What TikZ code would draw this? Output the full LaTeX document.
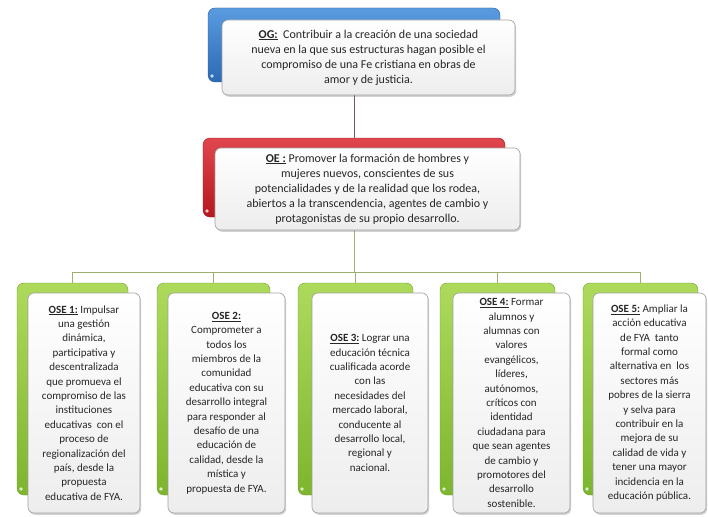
\documentclass[tikz,border=0pt]{standalone}
\usepackage{fontspec}
\setmainfont{Carlito}
\usetikzlibrary{shadows}
\definecolor{txt}{HTML}{262626}
\definecolor{bluetop}{HTML}{5A9BE0}
\definecolor{bluebot}{HTML}{2C6AB5}
\definecolor{blueedge}{HTML}{25599A}
\definecolor{redtop}{HTML}{E0474D}
\definecolor{redbot}{HTML}{B5181F}
\definecolor{rededge}{HTML}{9A1419}
\definecolor{greentop}{HTML}{AEDA5C}
\definecolor{greenbot}{HTML}{7DB52E}
\definecolor{greenedge}{HTML}{6E9E2A}
\definecolor{topline}{HTML}{6E5A5A}
\definecolor{greenline}{HTML}{9EB070}
\definecolor{frontedge}{HTML}{A0A0A0}
\tikzset{
  backbox/.style={rounded corners=7pt, inner sep=0pt,
    path picture={\fill[white,opacity=0.75] ([shift={(4pt,6pt)}]path picture bounding box.south west) circle (1.8pt);}},
  bluebk/.style={backbox, draw=blueedge, top color=bluetop, bottom color=bluebot},
  redbk/.style={backbox, draw=rededge, top color=redtop, bottom color=redbot},
  greenbk/.style={backbox, draw=greenedge, top color=greentop, bottom color=greenbot},
  frontbox/.style={rounded corners=6pt, draw=frontedge, line width=0.6pt, top color=white, bottom color=gray!14,
    drop shadow={opacity=0.35, shadow xshift=1.2pt, shadow yshift=-1.8pt},
    inner sep=0pt, align=center, text=txt},
  bigtxt/.style={font=\fontsize{12}{15}\selectfont},
  smalltxt/.style={font=\fontsize{11}{14.4}\selectfont},
  conn/.style={line width=1pt},
}
\begin{document}
\begin{tikzpicture}[x=1pt,y=-1pt]
\useasboundingbox[fill=white] (0,0) rectangle (708,516);

\coordinate (bar) at (354,272);

% back boxes
\node[bluebk, minimum width=292pt, minimum height=74pt] (ogb) at (354,45) {};
\node[redbk, minimum width=302pt, minimum height=79pt] (oeb) at (354,177.5) {};
\node[greenbk, minimum width=111pt, minimum height=212pt] (ose1b) at (72.5,389) {};
\node[greenbk, minimum width=113pt, minimum height=212pt] (ose2b) at (213.5,389) {};
\node[greenbk, minimum width=115pt, minimum height=212pt] (ose3b) at (355.5,389) {};
\node[greenbk, minimum width=115pt, minimum height=212pt] (ose4b) at (497.5,389) {};
\node[greenbk, minimum width=115pt, minimum height=212pt] (ose5b) at (640.5,389) {};

% connectors
\draw[conn, topline] (ogb.south) -- (oeb.north);
\draw[conn, greenline] (oeb.south) -- (bar);
\draw[conn, greenline] (ose1b.north) |- (bar);
\draw[conn, greenline] (ose2b.north) |- (bar);
\draw[conn, greenline] (ose3b.north) |- (bar);
\draw[conn, greenline] (ose4b.north) |- (bar);
\draw[conn, greenline] (ose5b.north) |- (bar);

% front boxes
\node[frontbox, bigtxt, minimum width=293pt, minimum height=75pt] (og) at (368.5,57.5)
 {\textbf{\underline{OG:}}~ Contribuir a la creación de una sociedad\\nueva en la que sus estructuras hagan posible el\\compromiso de una Fe cristiana en obras de\\amor y de justicia.};
\node[frontbox, bigtxt, minimum width=305pt, minimum height=82pt] (oe) at (367.5,189)
 {\textbf{\underline{OE :}} Promover la formación de hombres y\\mujeres nuevos, conscientes de sus\\potencialidades y de la realidad que los rodea,\\abiertos a la transcendencia, agentes de cambio y\\protagonistas de su propio desarrollo.};

\node[frontbox, smalltxt, minimum width=112pt, minimum height=220pt] (ose1) at (84,403)
 {\textbf{\underline{OSE 1:}} Impulsar\\una gestión\\dinámica,\\participativa y\\descentralizada\\que promueva el\\compromiso de las\\instituciones\\educativas~ con el\\proceso de\\regionalización del\\país, desde la\\propuesta\\educativa de FYA.};
\node[frontbox, smalltxt, minimum width=117pt, minimum height=220pt] (ose2) at (226.5,403)
 {\textbf{\underline{OSE 2:}}\\Comprometer a\\todos los\\miembros de la\\comunidad\\educativa con su\\desarrollo integral\\para responder al\\desafío de una\\educación de\\calidad, desde la\\mística y\\propuesta de FYA.};
\node[frontbox, smalltxt, minimum width=116pt, minimum height=220pt] (ose3) at (370,403)
 {\textbf{\underline{OSE 3:}} Lograr una\\educación técnica\\cualificada acorde\\con las\\necesidades del\\mercado laboral,\\conducente al\\desarrollo local,\\regional y\\nacional.};
\node[frontbox, smalltxt, minimum width=117pt, minimum height=220pt] (ose4) at (511.5,403)
 {\textbf{\underline{OSE 4:}} Formar\\alumnos y\\alumnas con\\valores\\evangélicos,\\líderes,\\autónomos,\\críticos con\\identidad\\ciudadana para\\que sean agentes\\de cambio y\\promotores del\\desarrollo\\sostenible.};
\node[frontbox, smalltxt, minimum width=113pt, minimum height=220pt] (ose5) at (649.5,403)
 {\textbf{\underline{OSE 5:}} Ampliar la\\acción educativa\\de FYA~ tanto\\formal como\\alternativa en~ los\\sectores más\\pobres de la sierra\\y selva para\\contribuir en la\\mejora de su\\calidad de vida y\\tener una mayor\\incidencia en la\\educación pública.};
\end{tikzpicture}
\end{document}
